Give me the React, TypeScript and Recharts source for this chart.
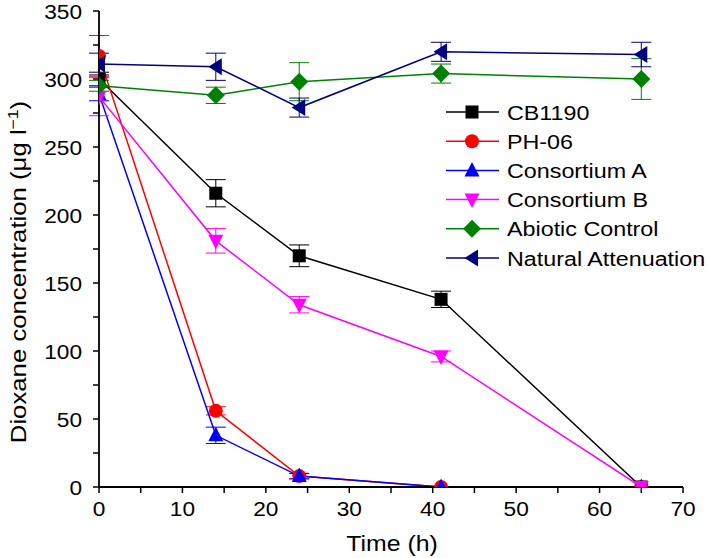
import React from 'react';
import { LineChart, Line, XAxis, YAxis, ErrorBar, Customized } from 'recharts';

const times = [0, 14, 24, 41, 65];
const cb1190 = [300, 216, 170, 138, 0];
const cb1190Err = [5, 10, 8, 6, 0];
const ph06 = [317, 56, 8, 0, 0];
const ph06Err = [15, 3, 2, 0, 0];
const consortiumA = [289, 38, 8, 0, 0];
const consortiumAErr = [5, 6, 2, 0, 0];
const consortiumB = [287, 181, 134, 96, 0];
const consortiumBErr = [14, 9, 6, 4, 0];
const abiotic = [295, 288, 298, 304, 300];
const abioticErr = [4, 6, 14, 7, 15];
const natural = [311, 309, 279, 320, 318];
const naturalErr = [8, 10, 7, 7, 9];

const xTicks = [0, 5, 10, 15, 20, 25, 30, 35, 40, 45, 50, 55, 60, 65, 70];
const yTicks = [0, 25, 50, 75, 100, 125, 150, 175, 200, 225, 250, 275, 300, 325, 350];

const FONT = 'Liberation Sans, Arial, Helvetica, sans-serif';

type Shape = 'square' | 'circle' | 'up' | 'down' | 'diamond' | 'left';

const series: { key: string; name: string; color: string; shape: Shape; values: number[]; errs: number[] }[] = [
  { key: 'cb', name: 'CB1190', color: '#000000', shape: 'square', values: cb1190, errs: cb1190Err },
  { key: 'ph', name: 'PH-06', color: '#ff0000', shape: 'circle', values: ph06, errs: ph06Err },
  { key: 'ca', name: 'Consortium A', color: '#0000ff', shape: 'up', values: consortiumA, errs: consortiumAErr },
  { key: 'cbb', name: 'Consortium B', color: '#ff00ff', shape: 'down', values: consortiumB, errs: consortiumBErr },
  { key: 'ab', name: 'Abiotic Control', color: '#008000', shape: 'diamond', values: abiotic, errs: abioticErr },
  { key: 'na', name: 'Natural Attenuation', color: '#000080', shape: 'left', values: natural, errs: naturalErr },
];

const rows = times.map((t, i) => {
  const r: Record<string, number> = { t };
  series.forEach((s) => {
    r[s.key] = s.values[i];
    r[s.key + 'Err'] = s.errs[i];
  });
  return r;
});

function Marker({ cx, cy, shape, color }: { cx: number; cy: number; shape: Shape; color: string }) {
  if (cx == null || cy == null || isNaN(cx) || isNaN(cy)) return <g />;
  switch (shape) {
    case 'square':
      return <rect x={cx - 6.5} y={cy - 6.5} width={13} height={13} fill={color} />;
    case 'circle':
      return <circle cx={cx} cy={cy} r={7} fill={color} />;
    case 'up':
      return <polygon points={`${cx},${cy - 8.5} ${cx - 7.5},${cy + 6} ${cx + 7.5},${cy + 6}`} fill={color} />;
    case 'down':
      return <polygon points={`${cx},${cy + 8.5} ${cx - 7.5},${cy - 6} ${cx + 7.5},${cy - 6}`} fill={color} />;
    case 'diamond':
      return <polygon points={`${cx},${cy - 9} ${cx + 9},${cy} ${cx},${cy + 9} ${cx - 9},${cy}`} fill={color} />;
    case 'left':
      return <polygon points={`${cx - 7.5},${cy} ${cx + 6},${cy - 8.5} ${cx + 6},${cy + 8.5}`} fill={color} />;
  }
  return <g />;
}

const XTick = (props: any) => {
  const { x, y, payload } = props;
  if (payload.value % 10 !== 0) return <g />;
  return (
    <text
      transform={`translate(${x},${y}) scale(1.08,1)`}
      textAnchor="middle"
      dy="0.71em"
      fontSize={21}
      fontFamily={FONT}
      fill="#000"
    >
      {payload.value}
    </text>
  );
};

const YTick = (props: any) => {
  const { x, y, payload } = props;
  if (payload.value % 50 !== 0) return <g />;
  return (
    <text
      transform={`translate(${x},${y}) scale(1.08,1)`}
      textAnchor="end"
      dy="0.36em"
      fontSize={21}
      fontFamily={FONT}
      fill="#000"
    >
      {payload.value}
    </text>
  );
};

const Decorations = () => (
  <g>
    <text
      transform="translate(26,272) rotate(-90) scale(1.17,1)"
      textAnchor="middle"
      fontSize={22}
      fontFamily={FONT}
      fill="#000"
    >
      Dioxane concentration (μg l
      <tspan dy={-8} fontSize={15}>−1</tspan>
      <tspan dy={8}>)</tspan>
    </text>
    <text
      transform="translate(392,551) scale(1.13,1)"
      textAnchor="middle"
      fontSize={22}
      fontFamily={FONT}
      fill="#000"
    >
      Time (h)
    </text>
    {series.map((s, i) => {
      const y = 112 + i * 29.2;
      return (
        <g key={s.key}>
          <line x1={446} x2={499} y1={y} y2={y} stroke={s.color} strokeWidth={1.5} />
          <Marker cx={472} cy={y} shape={s.shape} color={s.color} />
          <text
            transform={`translate(507,${y}) scale(1.11,1)`}
            textAnchor="start"
            dy="0.36em"
            fontSize={21}
            fontFamily={FONT}
            fill="#000"
          >
            {s.name}
          </text>
        </g>
      );
    })}
  </g>
);

export default function App() {
  return (
    <div style={{ position: 'absolute', left: 0, top: 0, width: 709, height: 558, background: '#fff' }}>
      <LineChart width={709} height={558} data={rows} margin={{ top: 11, right: 26, bottom: 41, left: 39 }}>
        <XAxis
          dataKey="t"
          type="number"
          domain={[0, 70]}
          ticks={xTicks}
          interval={0}
          tick={<XTick />}
          tickSize={6}
          tickMargin={8}
          height={30}
          axisLine={{ stroke: '#000', strokeWidth: 1.8 }}
          tickLine={{ stroke: '#000', strokeWidth: 1.5 }}
          allowDataOverflow
        />
        <YAxis
          type="number"
          domain={[0, 350]}
          ticks={yTicks}
          interval={0}
          tick={<YTick />}
          tickSize={6}
          tickMargin={11}
          width={60}
          axisLine={{ stroke: '#000', strokeWidth: 1.8 }}
          tickLine={{ stroke: '#000', strokeWidth: 1.5 }}
          allowDataOverflow
        />
        {series.map((s) => (
          <Line
            key={s.key}
            dataKey={s.key}
            name={s.name}
            stroke={s.color}
            strokeWidth={1.5}
            type="linear"
            isAnimationActive={false}
            activeDot={false}
            legendType="none"
            dot={(p: any) => (
              <Marker key={`${s.key}-${p.index}`} cx={p.cx} cy={p.cy} shape={s.shape} color={s.color} />
            )}
          >
            <ErrorBar dataKey={s.key + 'Err'} direction="y" width={10} stroke={s.color} strokeWidth={1} />
          </Line>
        ))}
        <Customized component={Decorations} />
      </LineChart>
    </div>
  );
}
